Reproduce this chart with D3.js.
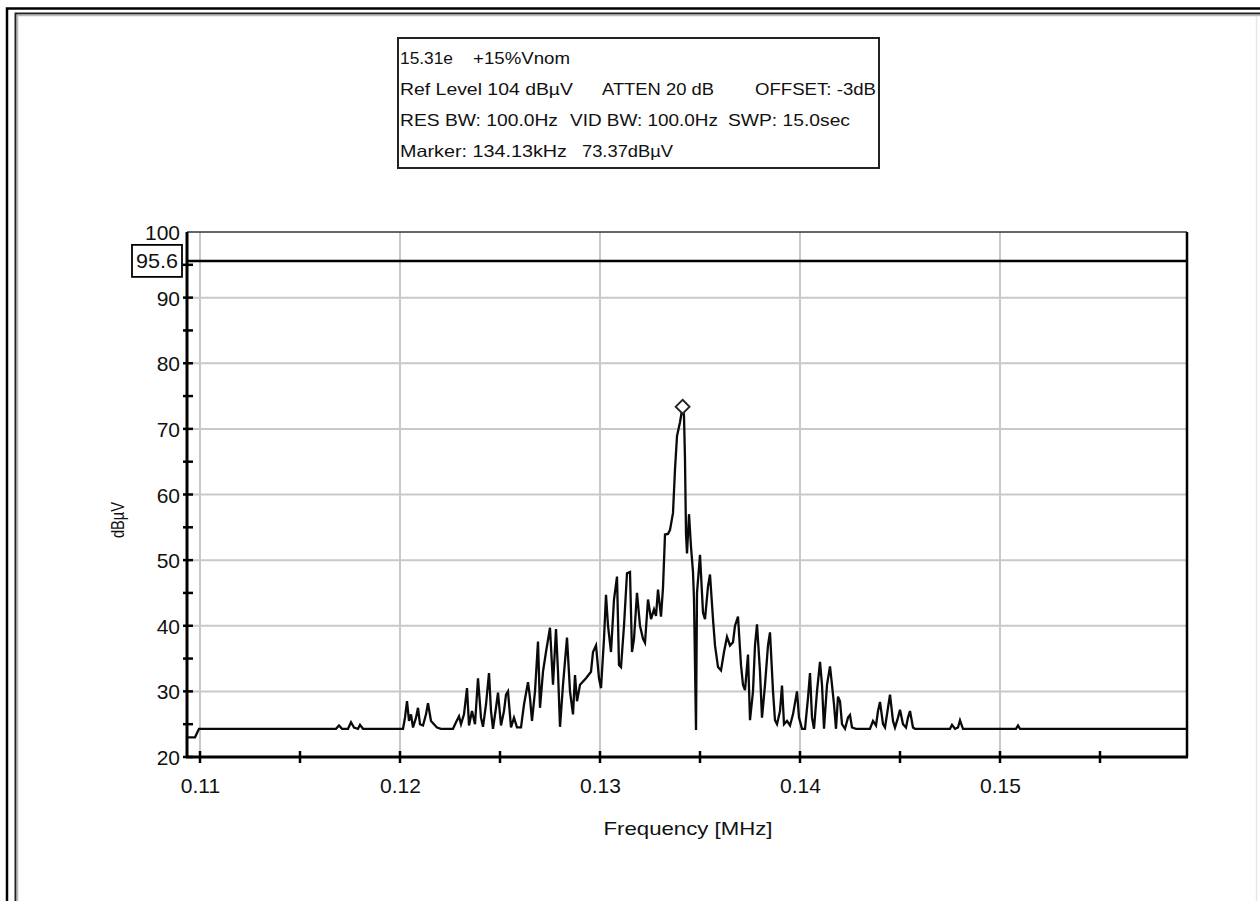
<!DOCTYPE html>
<html>
<head>
<meta charset="utf-8">
<script src="https://cdn.jsdelivr.net/npm/d3@7"></script>
<style>
  html, body { margin: 0; padding: 0; background: #ffffff; }
  svg { display: block; }
  text { font-family: "Liberation Sans", Arial, sans-serif; fill: #111; }
</style>
</head>
<body>
<svg id="chart" width="1260" height="901"></svg>
<script>
// ---------------- DATA ----------------
// Spectrum trace: frequency (kHz) and level (dBµV)
const traceFreqKHz = [
  109.35, 109.75, 109.95, 116.80, 116.95, 117.10, 117.40, 117.55, 117.70, 117.90, 118.00, 118.15,
  120.15, 120.25, 120.35, 120.45, 120.55, 120.65, 120.80, 120.90, 121.00, 121.15, 121.30, 121.40,
  121.55, 121.70, 121.85, 122.05, 122.65, 122.80, 122.95, 123.05, 123.20, 123.35, 123.45, 123.60,
  123.75, 123.90, 124.05, 124.15, 124.30, 124.45, 124.55, 124.65, 124.80, 124.90, 125.05, 125.20,
  125.30, 125.40, 125.55, 125.70, 125.85, 126.05, 126.20, 126.40, 126.50, 126.60, 126.75, 126.90,
  127.00, 127.15, 127.30, 127.50, 127.65, 127.80, 127.90, 128.00, 128.15, 128.35, 128.50, 128.65,
  128.75, 128.85, 129.00, 129.30, 129.55, 129.65, 129.80, 129.95, 130.05, 130.20, 130.30, 130.40,
  130.55, 130.70, 130.85, 130.95, 131.05, 131.20, 131.35, 131.50, 131.60, 131.70, 131.85, 132.00,
  132.15, 132.25, 132.40, 132.55, 132.70, 132.80, 132.90, 133.05, 133.15, 133.25, 133.40, 133.50,
  133.65, 133.75, 133.85, 134.00, 134.13, 134.20, 134.25, 134.30, 134.35, 134.45, 134.55, 134.65,
  134.70, 134.80, 134.85, 135.00, 135.15, 135.25, 135.40, 135.50, 135.65, 135.75, 135.90, 136.05,
  136.20, 136.35, 136.50, 136.65, 136.75, 136.90, 137.05, 137.15, 137.25, 137.40, 137.50, 137.65,
  137.75, 137.85, 138.00, 138.10, 138.25, 138.40, 138.50, 138.65, 138.75, 138.85, 139.00, 139.10,
  139.20, 139.35, 139.50, 139.65, 139.85, 139.95, 140.10, 140.25, 140.40, 140.50, 140.60, 140.70,
  140.85, 141.00, 141.10, 141.20, 141.35, 141.50, 141.60, 141.70, 141.80, 141.90, 142.00, 142.10,
  142.25, 142.40, 142.50, 142.60, 142.80, 143.50, 143.65, 143.80, 143.90, 144.00, 144.15, 144.25,
  144.40, 144.50, 144.65, 144.75, 144.90, 145.00, 145.15, 145.30, 145.40, 145.50, 145.65, 145.75,
  147.50, 147.60, 147.75, 147.90, 148.00, 148.15, 150.80, 150.90, 151.00, 159.35
];
const traceLevel = [
  23.0, 23.0, 24.3, 24.3, 24.8, 24.3, 24.3, 25.3, 24.5, 24.3, 24.9, 24.3,
  24.3, 26.0, 28.5, 25.5, 26.5, 24.5, 26.0, 27.5, 25.0, 24.8, 26.5, 28.2,
  25.5, 25.0, 24.5, 24.3, 24.3, 25.3, 26.2, 25.0, 26.5, 30.5, 24.8, 27.0,
  25.0, 32.0, 26.0, 24.6, 28.0, 32.8, 27.0, 24.3, 27.5, 29.8, 24.8, 27.0,
  29.5, 30.0, 24.5, 26.0, 24.5, 24.5, 28.0, 31.4, 29.0, 25.5, 30.0, 37.6,
  27.5, 33.0, 36.0, 39.7, 31.0, 39.5, 33.0, 24.6, 31.0, 38.2, 30.0, 26.5,
  32.5, 28.5, 31.0, 32.0, 33.0, 36.0, 37.0, 32.0, 30.5, 38.0, 44.7, 40.0,
  36.0, 44.0, 47.5, 34.0, 33.7, 40.0, 48.0, 48.2, 36.0, 38.0, 45.0, 40.0,
  38.0, 37.4, 44.0, 41.0, 42.5, 41.5, 45.5, 41.4, 45.8, 53.9, 54.0, 54.6,
  57.2, 63.8, 68.9, 71.0, 73.37, 72.0, 65.3, 54.0, 51.0, 57.0, 52.0, 48.2,
  44.0, 24.1, 45.0, 50.8, 42.0, 41.0, 46.0, 47.8, 41.0, 37.0, 33.7, 33.2,
  36.0, 38.3, 37.0, 37.5, 40.0, 41.4, 34.0, 31.0, 30.2, 35.6, 25.6, 30.0,
  37.0, 40.2, 33.0, 26.0, 31.0, 37.0, 39.0, 30.0, 25.6, 25.0, 27.0, 30.9,
  25.0, 25.5, 24.8, 26.5, 30.0, 26.0, 24.3, 24.3, 29.0, 32.8, 26.0, 24.3,
  30.0, 34.5, 31.0, 24.3, 31.0, 33.8, 31.0, 28.0, 24.3, 29.2, 28.5, 25.0,
  24.3, 26.0, 26.4, 24.5, 24.3, 24.3, 25.5, 24.8, 27.0, 28.4, 25.0, 24.5,
  27.5, 29.5, 25.5, 24.5, 26.0, 27.2, 25.0, 24.5, 26.0, 27.0, 24.5, 24.3,
  24.3, 24.9, 24.3, 24.5, 25.6, 24.3, 24.3, 24.8, 24.3, 24.3
];

// Marker and limit line
const markerFreqKHz = 134.13;
const markerLevel = 73.37;
const limitLevel = 95.6;
const limitLabel = "95.6";

// Axes
const xDomainMHz = [0.10935, 0.15935];
const yDomain = [20, 100];
const xMajorTicks = [0.11, 0.12, 0.13, 0.14, 0.15];
const xTickLabels = ["0.11", "0.12", "0.13", "0.14", "0.15"];
const xMinorTicks = [0.11, 0.115, 0.12, 0.125, 0.13, 0.135, 0.14, 0.145, 0.15, 0.155];
const yMajorTicks = [20, 30, 40, 50, 60, 70, 80, 90, 100];
const yTickLabels = ["20", "30", "40", "50", "60", "70", "80", "90", "100"];
const yMinorTicks = [20, 25, 30, 35, 40, 45, 50, 55, 60, 65, 70, 75, 80, 85, 90, 95];
const yGrid = [30, 40, 50, 60, 70, 80, 90];
const xTitle = "Frequency [MHz]";
const yTitle = "dBµV";

// Info box lines (segments)
const infoLines = [
  ["15.31e", "+15%Vnom"],
  ["Ref Level 104 dBµV", "ATTEN 20 dB", "OFFSET: -3dB"],
  ["RES BW: 100.0Hz", "VID BW: 100.0Hz", "SWP: 15.0sec"],
  ["Marker: 134.13kHz", "73.37dBµV"]
];

// ---------------- LAYOUT ----------------
const svg = d3.select("#chart");
const L = 187, R = 1187, T = 232, B = 757;
const x = d3.scaleLinear().domain(xDomainMHz).range([L, R]);
const y = d3.scaleLinear().domain(yDomain).range([B, T]);

// outer frame
const frame = svg.append("g");
frame.append("path").attr("d", "M7,901 V8.5 H1260").attr("fill", "none").attr("stroke", "#000").attr("stroke-width", 2.5);
frame.append("path").attr("d", "M15.5,901 V13.5 H1260").attr("fill", "none").attr("stroke", "#222").attr("stroke-width", 2);
frame.append("path").attr("d", "M17.5,901 V15.5 H1260").attr("fill", "none").attr("stroke", "#bbb").attr("stroke-width", 1.5);
frame.append("line").attr("x1", 1256.5).attr("x2", 1256.5).attr("y1", 16).attr("y2", 901).attr("stroke", "#e6e6e6").attr("stroke-width", 1.5);

// grid
const grid = svg.append("g").attr("stroke", "#c9c9c9").attr("stroke-width", 2);
grid.selectAll("line.v").data(xMajorTicks).join("line")
  .attr("x1", d => x(d)).attr("x2", d => x(d)).attr("y1", T).attr("y2", B);
grid.selectAll("line.h").data(yGrid).join("line")
  .attr("x1", L).attr("x2", R).attr("y1", d => y(d)).attr("y2", d => y(d));

// plot frame (top, right)
svg.append("line").attr("x1", L).attr("x2", R).attr("y1", T).attr("y2", T).attr("stroke", "#333").attr("stroke-width", 1.5);
svg.append("line").attr("x1", R).attr("x2", R).attr("y1", T).attr("y2", B).attr("stroke", "#000").attr("stroke-width", 2.5);

// limit line
svg.append("line").attr("x1", L).attr("x2", R).attr("y1", y(limitLevel)).attr("y2", y(limitLevel))
  .attr("stroke", "#000").attr("stroke-width", 2.5);

// trace
const pts = traceFreqKHz.map((f, i) => [f / 1000, traceLevel[i]]);
const line = d3.line().x(d => x(d[0])).y(d => y(d[1]));
svg.append("path").datum(pts).attr("d", line)
  .attr("fill", "none").attr("stroke", "#0a0a0a").attr("stroke-width", 2.3).attr("stroke-linejoin", "miter");

// marker diamond
const mx = x(markerFreqKHz / 1000), my = y(markerLevel);
svg.append("path").attr("d", `M${mx},${my - 7} L${mx + 7},${my} L${mx},${my + 7} L${mx - 7},${my} Z`)
  .attr("fill", "#fff").attr("stroke", "#222").attr("stroke-width", 1.8);

// axes lines
svg.append("line").attr("x1", L).attr("x2", L).attr("y1", T).attr("y2", B + 1).attr("stroke", "#000").attr("stroke-width", 3);
svg.append("line").attr("x1", L - 1).attr("x2", R + 1).attr("y1", B).attr("y2", B).attr("stroke", "#000").attr("stroke-width", 3);

// y ticks (straddling)
svg.append("g").selectAll("line").data(yMinorTicks).join("line")
  .attr("x1", L - 4).attr("x2", L + 6).attr("y1", d => y(d)).attr("y2", d => y(d))
  .attr("stroke", "#000").attr("stroke-width", 2.5);
// x ticks (straddling)
svg.append("g").selectAll("line").data(xMinorTicks).join("line")
  .attr("x1", d => x(d)).attr("x2", d => x(d)).attr("y1", B - 6).attr("y2", B + 6)
  .attr("stroke", "#000").attr("stroke-width", 2.5);

// axis labels via d3 axes
const yAxis = d3.axisLeft(y).tickValues(yMajorTicks).tickSize(0).tickPadding(0)
  .tickFormat((d, i) => yTickLabels[i]);
const gy = svg.append("g").attr("transform", `translate(${L - 7},0)`).call(yAxis);
gy.select(".domain").remove();
gy.selectAll("text").attr("font-size", 21).attr("font-family", "Liberation Sans, Arial, sans-serif")
  .attr("fill", "#111").attr("dy", "0.36em");

const xAxis = d3.axisBottom(x).tickValues(xMajorTicks).tickSize(0).tickPadding(0)
  .tickFormat((d, i) => xTickLabels[i]);
const gx = svg.append("g").attr("transform", `translate(0,${B + 21})`).call(xAxis);
gx.select(".domain").remove();
gx.selectAll("text").attr("font-size", 21).attr("font-family", "Liberation Sans, Arial, sans-serif")
  .attr("fill", "#111").attr("dy", "0.71em");

// limit label box
const ly = y(limitLevel);
svg.append("rect").attr("x", 132).attr("y", ly - 16).attr("width", 50).attr("height", 32)
  .attr("fill", "#fff").attr("stroke", "#000").attr("stroke-width", 1.8);
svg.append("text").attr("x", 157).attr("y", ly).attr("dy", "0.36em").attr("text-anchor", "middle")
  .attr("font-size", 21).attr("textLength", 42).attr("lengthAdjust", "spacingAndGlyphs").text(limitLabel);

// titles
svg.append("text").attr("x", 688).attr("y", 835).attr("text-anchor", "middle")
  .attr("font-size", 19).attr("textLength", 169).attr("lengthAdjust", "spacingAndGlyphs").text(xTitle);
svg.append("text").attr("transform", "translate(124,520) rotate(-90)").attr("text-anchor", "middle")
  .attr("font-size", 18).attr("textLength", 36).attr("lengthAdjust", "spacingAndGlyphs").text(yTitle);

// info box
svg.append("rect").attr("x", 398).attr("y", 38).attr("width", 481).attr("height", 130)
  .attr("fill", "#fff").attr("stroke", "#222").attr("stroke-width", 2);
const segX = [[400, 473], [400, 602, 755], [400, 570, 728], [400, 582]];
const segW = [[53, 97], [173, 112, 121], [158, 148, 122], [167, 91]];
const lineY = [58, 89, 120, 151];
infoLines.forEach((segs, i) => {
  segs.forEach((s, j) => {
    svg.append("text").attr("x", segX[i][j]).attr("y", lineY[i]).attr("dy", "0.36em")
      .attr("font-size", 16.5).attr("textLength", segW[i][j]).attr("lengthAdjust", "spacingAndGlyphs")
      .text(s);
  });
});
</script>
</body>
</html>
